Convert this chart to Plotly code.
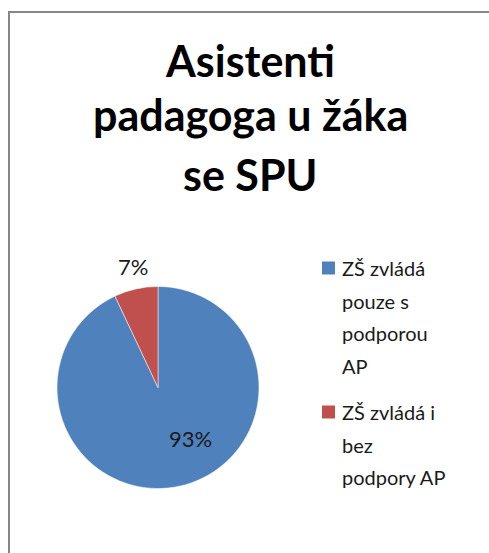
import plotly.graph_objects as go

W, H = 489, 553

title_lines = ["Asistenti", "padagoga u žáka", "se SPU"]
categories = ["ZŠ zvládá pouze s podporou AP", "ZŠ zvládá i bez podpory AP"]
legend_lines = [["ZŠ zvládá", "pouze s", "podporou", "AP"],
                ["ZŠ zvládá i", "bez", "podpory AP"]]
values = [93, 7]
colors = ["#4F81BD", "#C0504D"]

FONT = "Lato"

def px(x):
    return x / W

def py(y):
    return 1 - y / H

fig = go.Figure()
fig.add_trace(go.Pie(
    labels=categories,
    values=values,
    sort=False,
    direction="clockwise",
    rotation=0,
    marker=dict(colors=colors, line=dict(color="white", width=0.5)),
    textinfo="none",
    showlegend=False,
    hoverinfo="label+percent",
    domain=dict(x=[px(57), px(259)], y=[py(489), py(286)]),
))

annotations = []
# title
title_centers = [60, 115, 174]
for line, yc in zip(title_lines, title_centers):
    annotations.append(dict(
        text=line, x=px(250), y=py(yc), xref="paper", yref="paper",
        xanchor="center", yanchor="middle", showarrow=False,
        font=dict(family=FONT, size=43, color="black", weight="bold"),
    ))

# percentage data labels (computed from the values)
total = sum(values)
label_pos = [(190, 439), (133, 267)]
for v, (lx, ly) in zip(values, label_pos):
    annotations.append(dict(
        text=f"{round(100 * v / total)}%", x=px(lx), y=py(ly),
        xref="paper", yref="paper", xanchor="center", yanchor="middle",
        showarrow=False, font=dict(family=FONT, size=22, color="#1a1a1a"),
    ))

# legend
shapes = []
entry_tops = [268, 412]
spacing = 32.7
for i, lines in enumerate(legend_lines):
    y0 = entry_tops[i]
    shapes.append(dict(type="rect", xref="paper", yref="paper",
                       x0=px(322), x1=px(335), y0=py(y0 - 6.5), y1=py(y0 + 6.5),
                       fillcolor=colors[i], line=dict(width=0)))
    for j, ln in enumerate(lines):
        annotations.append(dict(
            text=ln, x=px(340), y=py(y0 + j * spacing), xref="paper", yref="paper",
            xanchor="left", yanchor="middle", showarrow=False,
            font=dict(family=FONT, size=20, color="#1a1a1a"),
        ))

# outer chart border
shapes.append(dict(type="rect", xref="paper", yref="paper",
                   x0=px(9), x1=px(W + 20), y0=py(H + 20), y1=py(12),
                   line=dict(color="#868686", width=2), fillcolor="rgba(0,0,0,0)"))

fig.update_layout(
    width=W, height=H,
    margin=dict(l=0, r=0, t=0, b=0),
    paper_bgcolor="white",
    plot_bgcolor="white",
    annotations=annotations,
    shapes=shapes,
    showlegend=False,
)

fig.write_html("out.html",
               config={"displayModeBar": False},
               post_script="document.body.style.margin='0';document.body.style.overflow='hidden';")
